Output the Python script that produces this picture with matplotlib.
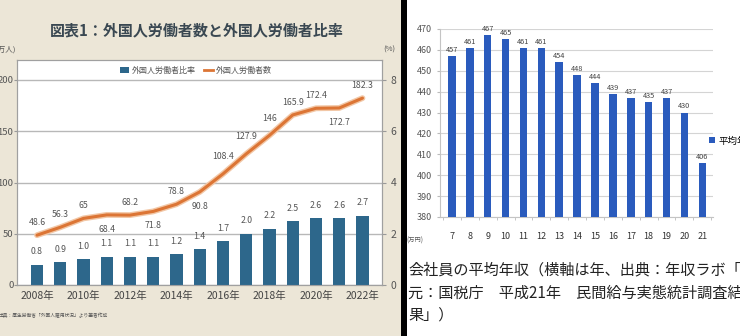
import matplotlib
matplotlib.use("Agg")
import matplotlib.pyplot as plt
import matplotlib.patheffects as pe
from matplotlib.patches import Rectangle, Patch
from matplotlib.lines import Line2D

plt.rcParams['font.family'] = ['Noto Sans CJK JP', 'DejaVu Sans']

# ---- left chart: foreign workers ----
years = list(range(2008, 2023))
ratio_pct = [0.8, 0.9, 1.0, 1.1, 1.1, 1.1, 1.2, 1.4, 1.7, 2.0, 2.2, 2.5, 2.6, 2.6, 2.7]
workers_10k = [48.6, 56.3, 65, 68.4, 68.2, 71.8, 78.8, 90.8, 108.4, 127.9, 146,
               165.9, 172.4, 172.7, 182.3]
worker_labels = ['48.6', '56.3', '65', '68.4', '68.2', '71.8', '78.8', '90.8', '108.4',
                 '127.9', '146', '165.9', '172.4', '172.7', '182.3']
label_side = [1, 1, 1, -1, 1, -1, 1, -1, 1, 1, 1, 1, 1, -1, 1]
year_ticks = [2008, 2010, 2012, 2014, 2016, 2018, 2020, 2022]
year_tick_labels = [f'{y}年' for y in year_ticks]
left_ticks = [0, 50, 100, 150, 200]
right_ticks = [0, 2, 4, 6, 8]
legend_labels = ['外国人労働者比率', '外国人労働者数']
title = '図表1：外国人労働者数と外国人労働者比率'
source = '出典：厚生労働省「外国人雇用状況」より筆者作成'

# ---- right chart: average salary ----
heisei_years = list(range(7, 22))
avg_income = [457, 461, 467, 465, 461, 461, 454, 448, 444, 439, 437, 435, 437, 430, 406]
income_ticks = list(range(380, 471, 10))
caption_lines = ['会社員の平均年収（横軸は年、出典：年収ラボ「統計',
                 '元：国税庁　平成21年　民間給与実態統計調査結',
                 '果」）']

W, H = 740, 336
BEIGE = '#ece6d7'
TEAL = '#2d678b'
ORANGE = '#dc7535'
BLUE = '#2a5bbd'


def fx(x):
    return x / W


def fy(y):
    return 1 - y / H


fig = plt.figure(figsize=(W / 100, H / 100), dpi=100)
fig.patch.set_facecolor('white')
fig.patches.append(Rectangle((0, 0), fx(401), 1, transform=fig.transFigure,
                             facecolor=BEIGE, edgecolor='none', zorder=-10))
fig.patches.append(Rectangle((fx(401), 0), fx(6), 1, transform=fig.transFigure,
                             facecolor='black', edgecolor='none', zorder=-9))

# left panel axes
ax = fig.add_axes([fx(17), fy(285), fx(382 - 17), (285 - 60) / H])
ax_pct = ax.twinx()
ax.set_zorder(ax_pct.get_zorder() + 1)
ax.patch.set_visible(False)
ax_pct.patch.set_visible(True)
ax_pct.patch.set_facecolor('white')

ymax = 200 * 225 / 205
ax.set_ylim(0, ymax)
ax_pct.set_ylim(0, ymax * 8 / 200)
ax.set_xlim(2007.14, 2022.84)

ax_pct.bar(years, ratio_pct, width=0.52, color=TEAL, zorder=3)
ax_pct.set_yticks(right_ticks)
ax_pct.yaxis.grid(True, color='#b8b8b8', lw=1.0, zorder=0)
ax_pct.set_axisbelow(True)
for v, yr in zip(ratio_pct, years):
    ax_pct.annotate(f'{v:.1f}', (yr, v), xytext=(0, 6), textcoords='offset points',
                    ha='center', va='bottom', fontsize=6.3, color='#555555')

ax.plot(years, workers_10k, color=ORANGE, lw=2.2, zorder=5, solid_capstyle='round',
        path_effects=[pe.Stroke(linewidth=4.2, foreground='#f2c7a6'), pe.Normal()])
for v, yr, lab, s in zip(workers_10k, years, worker_labels, label_side):
    off = 6 if s > 0 else -7
    if 2016 <= yr <= 2018:
        off = 9
    ax.annotate(lab, (yr, v), xytext=(0, off), textcoords='offset points',
                ha='center', va='bottom' if s > 0 else 'top',
                fontsize=6.3, color='#555555')

ax.set_yticks(left_ticks)
ax.set_xticks(year_ticks)
ax.set_xticklabels(year_tick_labels)
ax.tick_params(axis='x', length=0, pad=4, labelsize=7.5, labelcolor='#444444')
ax.tick_params(axis='y', length=2, color='#999999', pad=0.5, labelsize=6.8,
               labelcolor='#555555')
ax_pct.tick_params(axis='y', length=3, color='#999999', pad=3, labelsize=7.5,
                   labelcolor='#555555')
for a in (ax, ax_pct):
    for sp in a.spines.values():
        sp.set_color('#a0a0a0')
        sp.set_linewidth(0.8)

handles = [Patch(facecolor=TEAL, edgecolor='none'),
           Line2D([0], [0], color=ORANGE, lw=2)]
leg = ax.legend(handles, legend_labels, loc='center', bbox_to_anchor=(0.49, 0.955),
                ncol=2, frameon=False, fontsize=5.8, handlelength=1.1,
                handleheight=0.9, columnspacing=1.0, handletextpad=0.4)
for t in leg.get_texts():
    t.set_color('#555555')

fig.text(fx(197), fy(30), title, ha='center', va='center', fontsize=10.8,
         fontweight='bold', color='#3a4852')
fig.text(fx(16), fy(50), '(万人)', ha='right', va='center', fontsize=5.5,
         color='#555555')
fig.text(fx(389), fy(50), '(%)', ha='center', va='center', fontsize=5.5,
         color='#555555')
fig.text(fx(-2), fy(315), source, ha='left', va='center', fontsize=3.4,
         color='#555555')

# right panel axes
axr = fig.add_axes([fx(440), fy(217), fx(273), (217 - 29) / H])
axr.set_ylim(380, 470)
axr.set_xlim(6.33, 21.6)
axr.bar(heisei_years, [v - 380 for v in avg_income], bottom=380, width=0.42,
        color=BLUE, zorder=3)
for v, x in zip(avg_income, heisei_years):
    axr.annotate(f'{v}', (x, v), xytext=(0, 1.5), textcoords='offset points',
                 ha='center', va='bottom', fontsize=5.3, color='#444444')
axr.set_yticks(income_ticks)
axr.set_xticks(heisei_years)
axr.set_xticks([x + 0.5 for x in heisei_years[:-1]] + [6.5, 21.5], minor=True)
axr.yaxis.grid(True, color='#d4d4d4', lw=0.8, zorder=0)
axr.set_axisbelow(True)
axr.tick_params(axis='y', length=2, color='#bbbbbb', pad=4, labelsize=6.5,
                labelcolor='#555555')
axr.tick_params(axis='x', which='major', length=0, pad=11, labelsize=6.5,
                labelcolor='#333333')
axr.tick_params(axis='x', which='minor', length=2.5, color='#bbbbbb')
for side in ('top', 'right'):
    axr.spines[side].set_visible(False)
for side in ('left', 'bottom'):
    axr.spines[side].set_color('#c4c4c4')
    axr.spines[side].set_linewidth(0.8)

fig.legend([Patch(facecolor=BLUE, edgecolor='none')], ['平均年収'],
           loc='center left', bbox_to_anchor=(fx(709), fy(141)), frameon=False,
           fontsize=6.8, handlelength=0.6, handleheight=0.6, handletextpad=0.4,
           borderaxespad=0, borderpad=0)

fig.text(fx(415), fy(241), '(万円)', ha='center', va='center', fontsize=4.5,
         color='#555555')
for i, line in enumerate(caption_lines):
    fig.text(fx(408), fy(270 + i * 23), line, ha='left', va='center',
             fontsize=10.9, color='#222222')

fig.savefig('out.png', dpi=100, facecolor=fig.get_facecolor())
